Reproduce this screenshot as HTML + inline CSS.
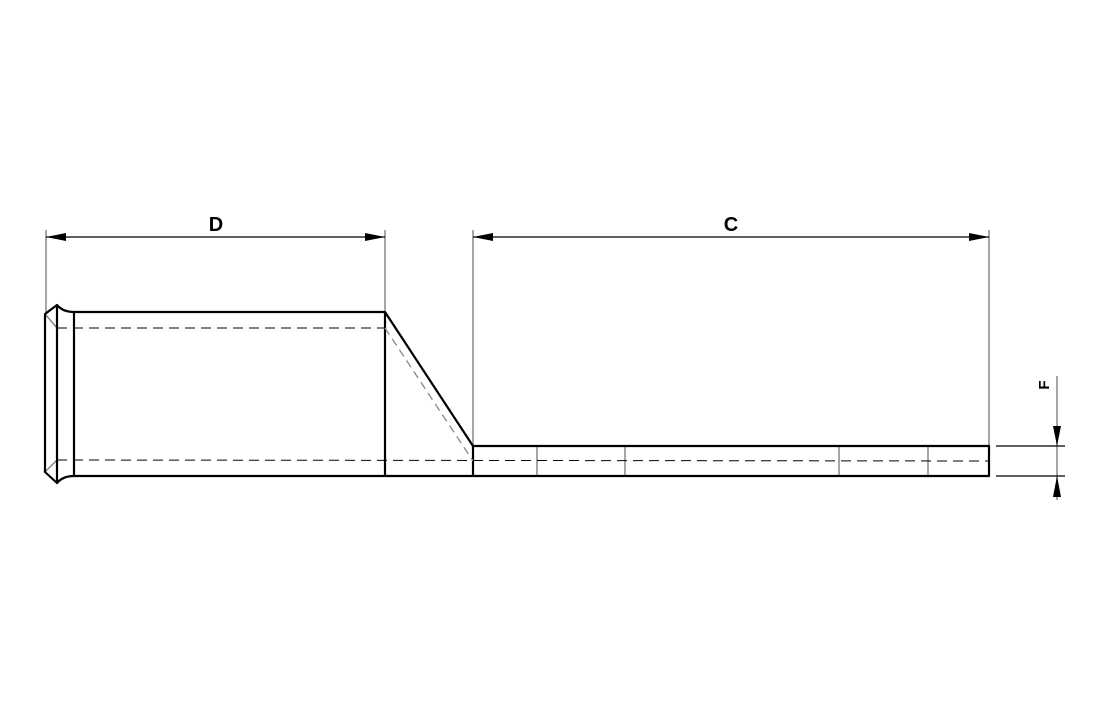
<!DOCTYPE html>
<html><head><style>body{margin:0;background:#fff}svg{display:block}</style></head><body>
<svg width="1100" height="710" viewBox="0 0 1100 710" xmlns="http://www.w3.org/2000/svg">
<defs>
<marker id="a" viewBox="0 0 20 8" refX="20" refY="4" markerWidth="20" markerHeight="8" markerUnits="userSpaceOnUse" orient="auto-start-reverse"><path d="M20,4 L0,0 L0,8 Z" fill="#000"/></marker>
</defs>
<g stroke="#888" stroke-width="1.5" fill="none">
<line x1="46" y1="230" x2="46" y2="312"/>
<line x1="385" y1="230" x2="385" y2="312"/>
<line x1="473" y1="230" x2="473" y2="446"/>
<line x1="989" y1="230" x2="989" y2="446"/>
<line x1="1057" y1="376" x2="1057" y2="500"/>
<line x1="537" y1="446" x2="537" y2="476"/>
<line x1="625" y1="446" x2="625" y2="476"/>
<line x1="839" y1="446" x2="839" y2="476"/>
<line x1="928" y1="446" x2="928" y2="476"/>
<line x1="45" y1="314" x2="57" y2="328"/>
<line x1="45" y1="472" x2="57" y2="460"/>
</g>
<g stroke="#000" stroke-width="1.3" fill="none">
<line x1="46" y1="237" x2="385" y2="237" marker-start="url(#a)" marker-end="url(#a)"/>
<line x1="473" y1="237" x2="989" y2="237" marker-start="url(#a)" marker-end="url(#a)"/>
<line x1="996" y1="446" x2="1065" y2="446"/>
<line x1="996" y1="476" x2="1065" y2="476"/>
<path d="M1053,426 L1061,426 L1057,446 Z" fill="#000" stroke="none"/>
<path d="M1053,497 L1061,497 L1057,476 Z" fill="#000" stroke="none"/>
</g>
<g stroke="#000" stroke-width="2.2" fill="none" stroke-linejoin="round">
<path d="M74,312 L385,312 L473,446 L989,446 L989,476 L74,476"/>
<path d="M45,314 L57,305 Q63,312 74,312 L74,476 Q63,476 57,483 L45,472 Z"/>
<line x1="57" y1="305" x2="57" y2="483"/>
<line x1="473" y1="446" x2="473" y2="476"/>
<line x1="385" y1="312" x2="385" y2="476"/>
</g>
<g stroke="#000" stroke-width="1" fill="none" stroke-dasharray="10,6">
<line x1="57" y1="328" x2="385" y2="328"/>
<line x1="57" y1="460" x2="989" y2="461"/>
</g>
<line x1="385" y1="328" x2="473" y2="461" stroke="#888" stroke-width="1.3" stroke-dasharray="8,5"/>
<g font-family="Liberation Sans, sans-serif" font-weight="bold" font-size="20" fill="#000">
<text x="216" y="231" text-anchor="middle">D</text>
<text x="731" y="231" text-anchor="middle">C</text>
<text transform="translate(1049,385) rotate(-90)" text-anchor="middle" font-size="15">F</text>
</g>
</svg>
</body></html>
